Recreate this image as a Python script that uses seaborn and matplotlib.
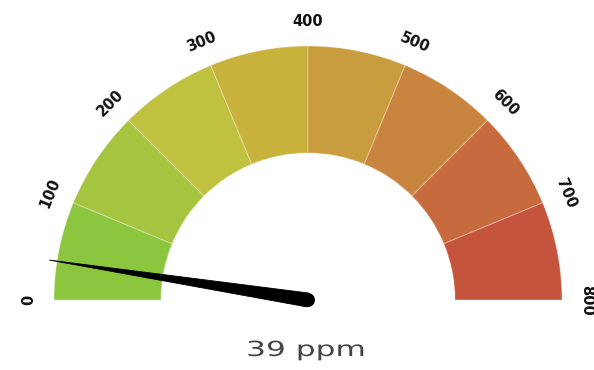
import numpy as np
import matplotlib
matplotlib.use("Agg")
import matplotlib.pyplot as plt
from matplotlib.patches import Wedge, Polygon, Circle
from matplotlib.patheffects import AbstractPathEffect
from matplotlib.transforms import Affine2D
import seaborn as sns

# Gauge data
band_edges = [0, 100, 200, 300, 400, 500, 600, 700, 800]
band_colors = ["#8cc63e", "#a5c540", "#c0c23f", "#c9b23c",
               "#c99c3e", "#c98540", "#c76b3e", "#c5543d"]
tick_labels = ["0", "100", "200", "300", "400", "500", "600", "700", "800"]
reading = 39
unit = "ppm"

sns.set_theme(style="white")
palette = sns.color_palette(band_colors)

vmin, vmax = band_edges[0], band_edges[-1]
r_outer, r_inner = 254, 147
r_label = 279


def value_to_angle(v):
    """Angle in degrees (0 = right, 180 = left) for a gauge value."""
    return 180.0 - (v - vmin) / (vmax - vmin) * 180.0


class Stretch(AbstractPathEffect):
    """Widen a text path horizontally about its own centre."""

    def __init__(self, sx):
        super().__init__()
        self.sx = sx

    def draw_path(self, renderer, gc, tpath, affine, rgbFace=None):
        ext = tpath.get_extents()
        mid = 0.5 * (ext.x0 + ext.x1)
        pre = Affine2D().translate(-mid, 0).scale(self.sx, 1).translate(mid, 0)
        renderer.draw_path(gc, tpath, pre + affine, rgbFace)


fig = plt.figure(figsize=(5.94, 3.70), dpi=100)
ax = fig.add_axes([0, 0, 1, 1])
ax.set_xlim(-308, 286)
ax.set_ylim(-70, 300)
ax.set_aspect("equal")
ax.axis("off")

# Coloured bands
for lo, hi, col in zip(band_edges[:-1], band_edges[1:], palette):
    w = Wedge((0, 0), r_outer, value_to_angle(hi), value_to_angle(lo),
              width=r_outer - r_inner, facecolor=col,
              edgecolor=(1, 1, 1, 0.25), linewidth=0.9)
    ax.add_patch(w)

# Tick labels along the arc
for v, lab in zip(band_edges, tick_labels):
    a = value_to_angle(v)
    x = r_label * np.cos(np.radians(a))
    y = r_label * np.sin(np.radians(a))
    ax.text(x, y, lab, rotation=a - 90, rotation_mode="anchor",
            ha="center", va="center", fontsize=10.5, fontweight="bold",
            color="#111111")

# Needle
a = np.radians(value_to_angle(reading))
tip = np.array([np.cos(a), np.sin(a)]) * 262
perp = np.array([-np.sin(a), np.cos(a)])
half = 7.0
needle = Polygon([tip, perp * half, -perp * half], closed=True,
                 facecolor="black", edgecolor="black", linewidth=0.6)
ax.add_patch(needle)
ax.add_patch(Circle((0, 0), half, facecolor="black", edgecolor="none"))

# Reading
ax.text(-2, -50, f"{reading} {unit}", ha="center", va="center",
        fontsize=15, color="#444444", family="DejaVu Sans",
        path_effects=[Stretch(1.5)])

fig.savefig("out.png", dpi=100)
